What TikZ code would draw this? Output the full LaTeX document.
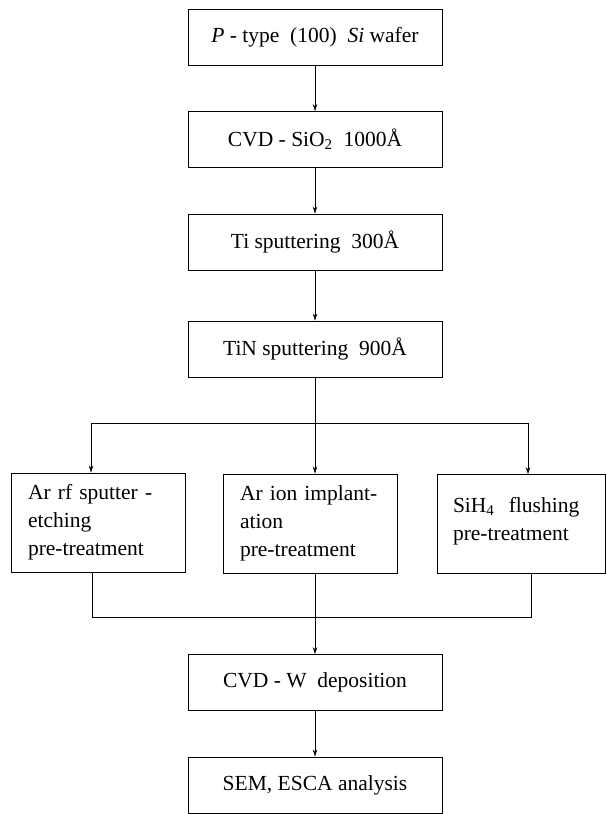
\documentclass[tikz,border=0pt]{standalone}
\usepackage{fontspec}
\setmainfont{Liberation Serif}
\usetikzlibrary{arrows.meta, positioning}
\tikzset{
  flowbox/.style = {draw, line width=0.9pt, minimum width=254pt, minimum height=56pt, inner sep=0pt, font=\fontsize{21.5}{28}\selectfont},
  sidebox/.style = {draw, line width=0.9pt, minimum height=99pt, inner xsep=17pt, text width=140pt, align=left, font=\fontsize{21.5}{28}\selectfont},
  flowline/.style = {line width=0.6pt},
  flowarrow/.style = {flowline, -{Stealth[length=7pt, width=4.5pt]}}
}
\begin{document}
\begin{tikzpicture}[x=1pt, y=-1pt]
\useasboundingbox (0,0) rectangle (606,814);
\node[flowbox] (wafer) at (315,37) {\textit{P} - type~~(100)~~\textit{Si} wafer};
\node[flowbox] (oxide) at (315,139.5) {CVD - SiO\textsubscript{2}~~1000Å};
\node[flowbox] (ti) at (315,242) {Ti sputtering~~300Å};
\node[flowbox] (tin) at (315,349) {TiN sputtering~~900Å};
\node[sidebox] (etch) at (98,522.5) {Ar rf sputter -\\etching\\pre-treatment};
\node[sidebox] (implant) at (310,523.5) {Ar ion implant-\\ation\\pre-treatment};
\node[sidebox, inner xsep=16pt, text width=136pt, text depth=38pt] (flush) at (521,524) {SiH\textsubscript{4}~~flushing\\pre-treatment};
\node[flowbox] (tungsten) at (315,682.5) {CVD - W~~deposition};
\node[flowbox] (sem) at (315,785) {SEM, ESCA analysis};

\coordinate (bl) at (91,423);
\coordinate (br) at (528,423);
\coordinate (cl) at (92,617);
\coordinate (cr) at (531,617);

\draw[flowarrow] (wafer) -- (oxide);
\draw[flowarrow] (oxide) -- (ti);
\draw[flowarrow] (ti) -- (tin);
\draw[flowline] (tin.south) -- (tin.south |- bl);
\draw[flowline] (bl) -- (br);
\draw[flowarrow] (bl) -- (bl |- etch.north);
\draw[flowarrow] (tin.south |- bl) -- (tin.south |- implant.north);
\draw[flowarrow] (br) -- (br |- flush.north);
\draw[flowline] (cl |- etch.south) -- (cl) -- (cr) -- (cr |- flush.south);
\draw[flowarrow] (tungsten.north |- implant.south) -- (tungsten.north);
\draw[flowarrow] (tungsten) -- (sem);
\end{tikzpicture}
\end{document}
